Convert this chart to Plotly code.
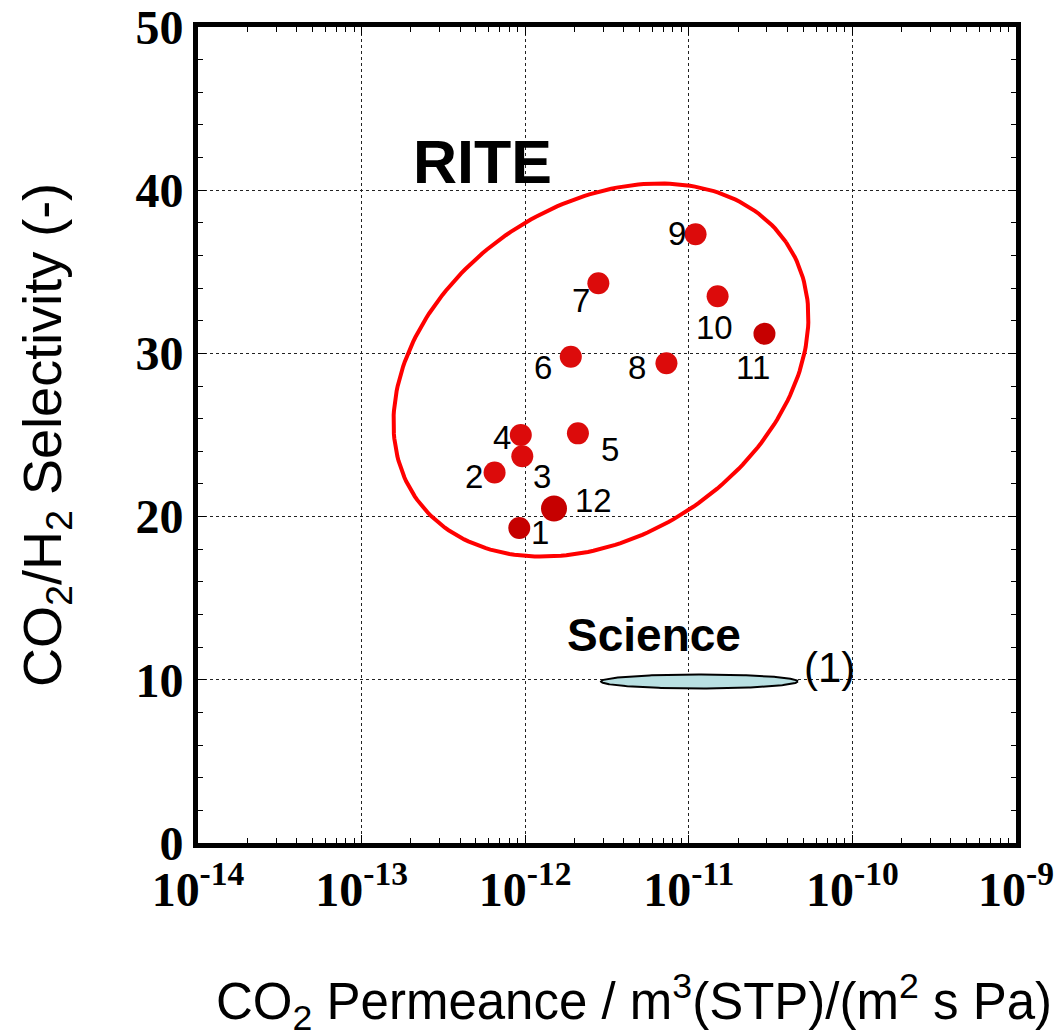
import math
import numpy as np
import plotly.graph_objects as go

# ---------------- data ----------------
labels = ["1", "2", "3", "4", "5", "6", "7", "8", "9", "10", "11", "12"]
permeance = [9.2e-13, 6.5e-13, 9.6e-13, 9.4e-13, 2.1e-12, 1.9e-12,
             2.8e-12, 7.3e-12, 1.1e-11, 1.5e-11, 2.9e-11, 1.5e-12]
selectivity = [19.3, 22.7, 23.7, 25.0, 25.1, 29.8,
               34.3, 29.4, 37.3, 33.5, 31.2, 20.5]

x_tick_vals = [1e-14, 1e-13, 1e-12, 1e-11, 1e-10, 1e-9]
x_tick_text = ["10<sup>-14</sup>", "10<sup>-13</sup>", "10<sup>-12</sup>",
               "10<sup>-11</sup>", "10<sup>-10</sup>", "10<sup>-9</sup>"]
y_tick_vals = [0, 10, 20, 30, 40, 50]

# ---------------- styling ----------------
W, H = 1056, 1035
L, R, T, B = 198, 40, 27, 192
plot_w = W - L - R
plot_h = H - T - B
XMIN, XMAX = -14, -9
YMIN, YMAX = 0, 50
px_per_dec = plot_w / (XMAX - XMIN)
px_per_unit = plot_h / (YMAX - YMIN)

dark = {"1", "11", "12"}
colors = ["#c60000" if l in dark else "#dc0b0b" for l in labels]
sizes = [26 if l == "12" else 22 for l in labels]

# label offsets in pixels (dx right, dy up)
label_offsets = {
    "1": (21, -4), "2": (-21, -4), "3": (20, -20), "4": (-19, -2),
    "5": (32, -16), "6": (-28, -11), "7": (-17, -17), "8": (-29, -4),
    "9": (-19, 1), "10": (-3, -31), "11": (-11, -34), "12": (39, 8),
}


def ellipse_pts(cx_log, cy, a_px, b_px, angle_deg, n=240):
    t = np.linspace(0, 2 * np.pi, n)
    ang = np.deg2rad(angle_deg)
    dx = a_px * np.cos(t) * np.cos(ang) - b_px * np.sin(t) * np.sin(ang)
    dy = a_px * np.cos(t) * np.sin(ang) + b_px * np.sin(t) * np.cos(ang)
    xs = 10 ** (cx_log + dx / px_per_dec)
    ys = cy + dy / px_per_unit
    return xs, ys


fig = go.Figure()

# RITE ellipse
ex, ey = ellipse_pts(-11.537, 28.98, 225, 165, 34.7)
fig.add_trace(go.Scatter(x=ex, y=ey, mode="lines",
                         line=dict(color="#ff0000", width=4),
                         hoverinfo="skip", showlegend=False))

# Science ellipse
sx, sy = ellipse_pts(-10.935, 9.9, 98.5, 7, 0)
fig.add_trace(go.Scatter(x=sx, y=sy, mode="lines", fill="toself",
                         fillcolor="#b9e0e2",
                         line=dict(color="black", width=2),
                         hoverinfo="skip", showlegend=False))

# data points
fig.add_trace(go.Scatter(x=permeance, y=selectivity, mode="markers",
                         marker=dict(color=colors, size=sizes, opacity=1,
                                     line=dict(width=0)),
                         showlegend=False))

annotations = []
for lab, xv, yv in zip(labels, permeance, selectivity):
    dx, dy = label_offsets[lab]
    annotations.append(dict(x=math.log10(xv), y=yv, xref="x", yref="y",
                            text=lab, showarrow=False, xshift=dx, yshift=dy,
                            xanchor="center", yanchor="middle",
                            font=dict(family="Liberation Sans", size=33, color="black")))

annotations += [
    dict(x=-12.264, y=41.7, xref="x", yref="y", text="<b>RITE</b>", showarrow=False,
         xanchor="center", yanchor="middle",
         font=dict(family="Liberation Sans", size=61, color="black")),
    dict(x=-11.21, y=12.75, xref="x", yref="y", text="<b>Science</b>", showarrow=False,
         xanchor="center", yanchor="middle",
         font=dict(family="Liberation Sans", size=46, color="black")),
    dict(x=-10.143, y=10.75, xref="x", yref="y", text="(1)", showarrow=False,
         xanchor="center", yanchor="middle",
         font=dict(family="Liberation Sans", size=42, color="black")),
    dict(x=(634 - L) / plot_w, y=-(1002 - (H - B)) / plot_h, xref="paper", yref="paper",
         text="CO<sub>2</sub> Permeance / m<sup>3</sup>(STP)/(m<sup>2</sup> s Pa)",
         showarrow=False, xanchor="center", yanchor="middle",
         font=dict(family="Liberation Sans", size=51, color="black")),
    dict(x=-(L - 46) / plot_w, y=(H - B - 435) / plot_h, xref="paper", yref="paper",
         text="CO<sub>2</sub>/H<sub>2</sub> Selectivity (-)", textangle=-90,
         showarrow=False, xanchor="center", yanchor="middle",
         font=dict(family="Liberation Sans", size=54, color="black")),
]

minor_x = [m * 10.0 ** e for e in range(-14, -9) for m in range(2, 10)]

tickfont = dict(family="Liberation Serif", size=48, color="black", weight="bold")

fig.update_layout(
    width=W, height=H,
    margin=dict(l=L, r=R, t=T, b=B, autoexpand=False),
    paper_bgcolor="white", plot_bgcolor="white",
    annotations=annotations,
    xaxis=dict(type="log", range=[XMIN, XMAX], automargin=False,
               tickmode="array", tickvals=x_tick_vals, ticktext=x_tick_text,
               tickfont=tickfont, ticks="inside", ticklen=8, tickwidth=1, tickcolor="black",
               showline=True, linewidth=5, linecolor="black", mirror="allticks",
               showgrid=True, gridcolor="#222", gridwidth=1, griddash="dot",
               minor=dict(tickmode="array", tickvals=minor_x, ticks="inside",
                          ticklen=5, tickwidth=1, tickcolor="black", showgrid=False),
               zeroline=False),
    yaxis=dict(range=[YMIN, YMAX], automargin=False, tickmode="array", tickvals=y_tick_vals,
               tickfont=tickfont, ticks="inside", ticklen=8, tickwidth=1, tickcolor="black",
               showline=True, linewidth=5, linecolor="black", mirror="allticks",
               showgrid=True, gridcolor="#222", gridwidth=1, griddash="dot",
               minor=dict(dtick=2, ticks="inside", ticklen=5, tickwidth=1,
                          tickcolor="black", showgrid=False),
               zeroline=False),
)

fig.write_html("out.html")
